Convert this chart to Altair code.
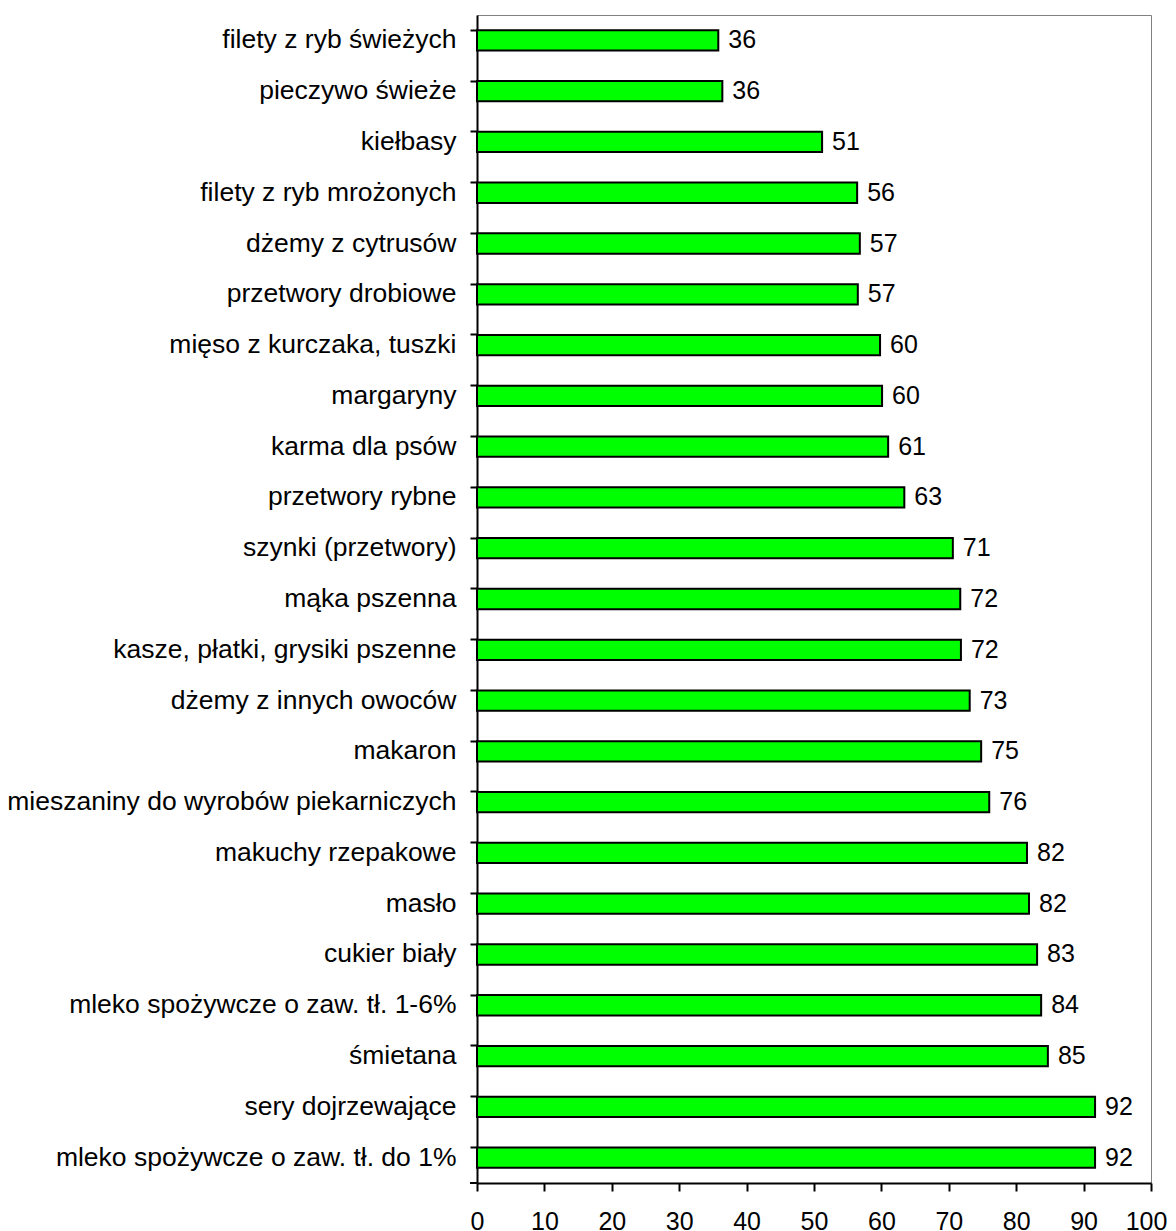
import altair as alt
import pandas as pd

categories = [
    "filety z ryb świeżych",
    "pieczywo świeże",
    "kiełbasy",
    "filety z ryb mrożonych",
    "dżemy z cytrusów",
    "przetwory drobiowe",
    "mięso z kurczaka, tuszki",
    "margaryny",
    "karma dla psów",
    "przetwory rybne",
    "szynki (przetwory)",
    "mąka pszenna",
    "kasze, płatki, grysiki pszenne",
    "dżemy z innych owoców",
    "makaron",
    "mieszaniny do wyrobów piekarniczych",
    "makuchy rzepakowe",
    "masło",
    "cukier biały",
    "mleko spożywcze o zaw. tł. 1-6%",
    "śmietana",
    "sery dojrzewające",
    "mleko spożywcze o zaw. tł. do 1%",
]
values = [35.8, 36.4, 51.2, 56.4, 56.8, 56.5, 59.8, 60.1, 61.0, 63.4, 70.6, 71.7,
          71.8, 73.1, 74.8, 76.0, 81.6, 81.9, 83.1, 83.7, 84.7, 91.7, 91.7]
labels = ["36", "36", "51", "56", "57", "57", "60", "60", "61", "63", "71", "72",
          "72", "73", "75", "76", "82", "82", "83", "84", "85", "92", "92"]
x_ticks = [0, 10, 20, 30, 40, 50, 60, 70, 80, 90, 100]

df = pd.DataFrame({"cat": categories, "val": values, "lab": labels})

FONT = "Liberation Sans"
W, H = 674, 1168

y_enc = alt.Y(
    "cat:N",
    sort=categories,
    scale=alt.Scale(paddingInner=0.6, paddingOuter=0.3),
    axis=alt.Axis(
        title=None,
        bandPosition=0,
        tickSize=7,
        tickWidth=2,
        tickColor="black",
        domainColor="black",
        domainWidth=2,
        labelFont=FONT,
        labelFontSize=26.5,
        labelColor="black",
        labelPadding=14,
        labelLimit=600,
        grid=False,
    ),
)
x_enc = alt.X(
    "val:Q",
    scale=alt.Scale(domain=[0, 100], nice=False),
    axis=alt.Axis(
        title=None,
        values=x_ticks,
        tickSize=8,
        tickWidth=2,
        tickColor="black",
        domainColor="black",
        domainWidth=2,
        labelFont=FONT,
        labelFontSize=25,
        labelColor="black",
        labelPadding=18,
        labelFlush=False,
        labelOffset={"condition": {"test": "datum.value === 100", "value": -5}, "value": 0},
        grid=False,
    ),
)

bars = alt.Chart(df).mark_bar(
    color="#00FF00", stroke="black", strokeWidth=2
).encode(x=x_enc, y=y_enc)

text = alt.Chart(df).mark_text(
    align="left", baseline="middle", dx=10, font=FONT, fontSize=25, color="black"
).encode(x="val:Q", y=alt.Y("cat:N", sort=categories), text="lab:N")

corner_tick = alt.Chart(df).mark_rule(color="black", strokeWidth=2).encode(
    x=alt.value(-7), x2=alt.value(0), y=alt.value(H)
)

chart = alt.layer(bars, text, corner_tick).properties(
    width=W,
    height=H,
    autosize=alt.AutoSizeParams(type="none"),
    padding={"left": 469, "top": 7, "right": 17, "bottom": 50},
    background="white",
).configure_view(stroke="#808080", strokeWidth=1)

chart.save("out.html", embed_options={"renderer": "svg", "actions": False})
